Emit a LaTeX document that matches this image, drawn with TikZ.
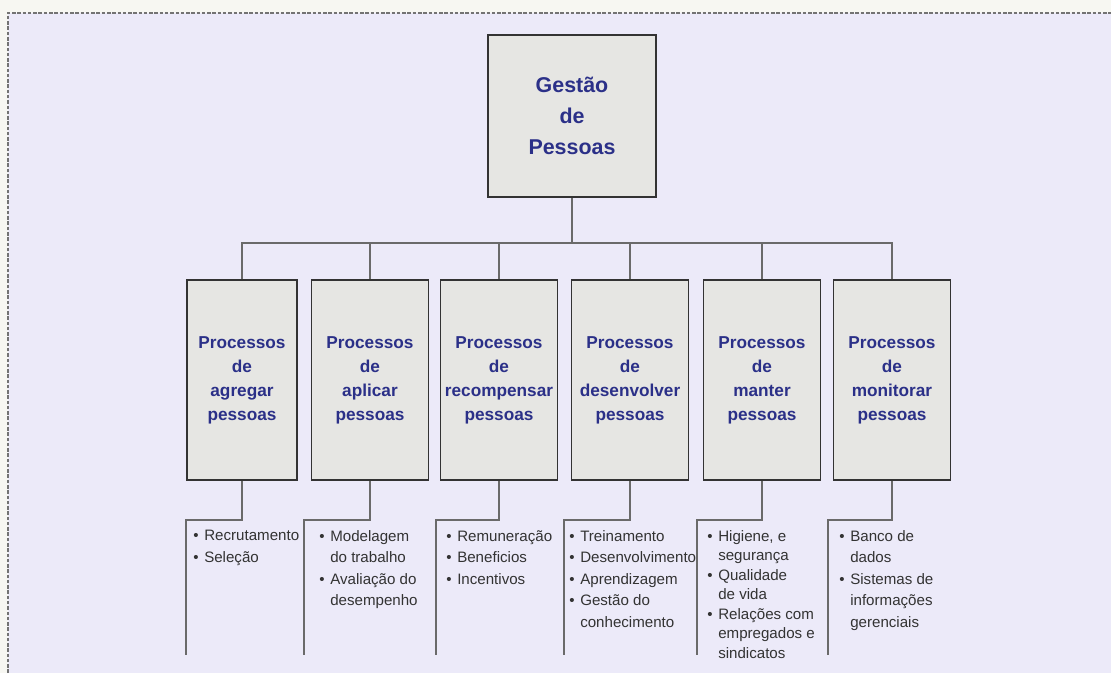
\documentclass[tikz,border=0pt]{standalone}
\usepackage{fontspec}
\setmainfont{Liberation Sans}
\usetikzlibrary{positioning}
\definecolor{pagebg}{HTML}{F7F7F2}
\definecolor{lavender}{HTML}{ECEAF9}
\definecolor{boxgray}{HTML}{E6E6E3}
\definecolor{navy}{HTML}{2B3088}
\definecolor{linegray}{HTML}{6A6A6A}
\definecolor{txtgray}{HTML}{333333}
\tikzset{
  topbox/.style={draw=black!80, line width=1.1pt, fill=boxgray, minimum width=3.36cm,
    minimum height=3.24cm, align=center, text=navy, inner sep=0pt,
    font=\bfseries\fontsize{12.2}{17.6}\selectfont},
  procbox/.style={draw=black!80, line width=1.1pt, fill=boxgray, minimum width=2.34cm,
    minimum height=4cm, align=center, text=navy, inner sep=0pt,
    font=\bfseries\fontsize{9.8}{13.7}\selectfont},
  link/.style={draw=linegray, line width=1.1pt},
  items/.style={anchor=north west, align=left, text=txtgray, inner sep=0pt,
    font=\fontsize{8.6}{12.2}\selectfont},
}
\newcommand{\bl}{\textbullet\hspace{3.2pt}}
\newcommand{\ind}{\phantom{\textbullet}\hspace{3.2pt}}
\begin{document}
\begin{tikzpicture}[x=0.02cm,y=-0.02cm]
% page and frame
\useasboundingbox (0,0) rectangle (1111,673);
\fill[pagebg] (0,0) rectangle (1111,673);
\fill[lavender] (8,13) rectangle (1111,673);
\draw[gray!90!black,dash pattern=on 2pt off 1pt,line width=0.7pt] (8,673) -- (8,13) -- (1111,13);

% boxes
\node[topbox] (gp) at (572,116) {Gestão\\de\\Pessoas};
\node[procbox, minimum width=2.2cm] (p1) at (242,380) {Processos\\de\\agregar\\pessoas};
\node[procbox] (p2) at (370,380) {Processos\\de\\aplicar\\pessoas};
\node[procbox] (p3) at (499,380) {Processos\\de\\recompensar\\pessoas};
\node[procbox] (p4) at (630,380) {Processos\\de\\desenvolver\\pessoas};
\node[procbox] (p5) at (762,380) {Processos\\de\\manter\\pessoas};
\node[procbox] (p6) at (892,380) {Processos\\de\\monitorar\\pessoas};

% top connectors
\coordinate (bus) at (572,243);
\draw[link] (gp.south) -- (bus);
\draw[link] (bus) -| (p1.north);
\draw[link] (bus) -| (p2.north);
\draw[link] (bus) -| (p3.north);
\draw[link] (bus) -| (p4.north);
\draw[link] (bus) -| (p5.north);
\draw[link] (bus) -| (p6.north);

% brackets under the boxes
\coordinate (k1) at (186,520); \coordinate (e1) at (186,655);
\coordinate (k2) at (304,520); \coordinate (e2) at (304,655);
\coordinate (k3) at (436,520); \coordinate (e3) at (436,655);
\coordinate (k4) at (564,520); \coordinate (e4) at (564,655);
\coordinate (k5) at (697,520); \coordinate (e5) at (697,655);
\coordinate (k6) at (828,520); \coordinate (e6) at (828,655);
\draw[link] (p1.south) |- (k1) -- (e1);
\draw[link] (p2.south) |- (k2) -- (e2);
\draw[link] (p3.south) |- (k3) -- (e3);
\draw[link] (p4.south) |- (k4) -- (e4);
\draw[link] (p5.south) |- (k5) -- (e5);
\draw[link] (p6.south) |- (k6) -- (e6);

% item lists
\node[items] (t1) at (193,530) {\bl Recrutamento\\\bl Seleção};
\node[items] (t2) at (319,530) {\bl Modelagem\\\ind do trabalho\\\bl Avaliação do\\\ind desempenho};
\node[items] (t3) at (446,530) {\bl Remuneração\\\bl Beneficios\\\bl Incentivos};
\node[items] (t4) at (569,530) {\bl Treinamento\\\bl Desenvolvimento\\\bl Aprendizagem\\\bl Gestão do\\\ind conhecimento};
\node[items, font=\fontsize{8.6}{11.1}\selectfont] (t5) at (707,530) {\bl Higiene, e\\\ind segurança\\\bl Qualidade\\\ind de vida\\\bl Relações com\\\ind empregados e\\\ind sindicatos};
\node[items] (t6) at (839,530) {\bl Banco de\\\ind dados\\\bl Sistemas de\\\ind informações\\\ind gerenciais};
\end{tikzpicture}
\end{document}
